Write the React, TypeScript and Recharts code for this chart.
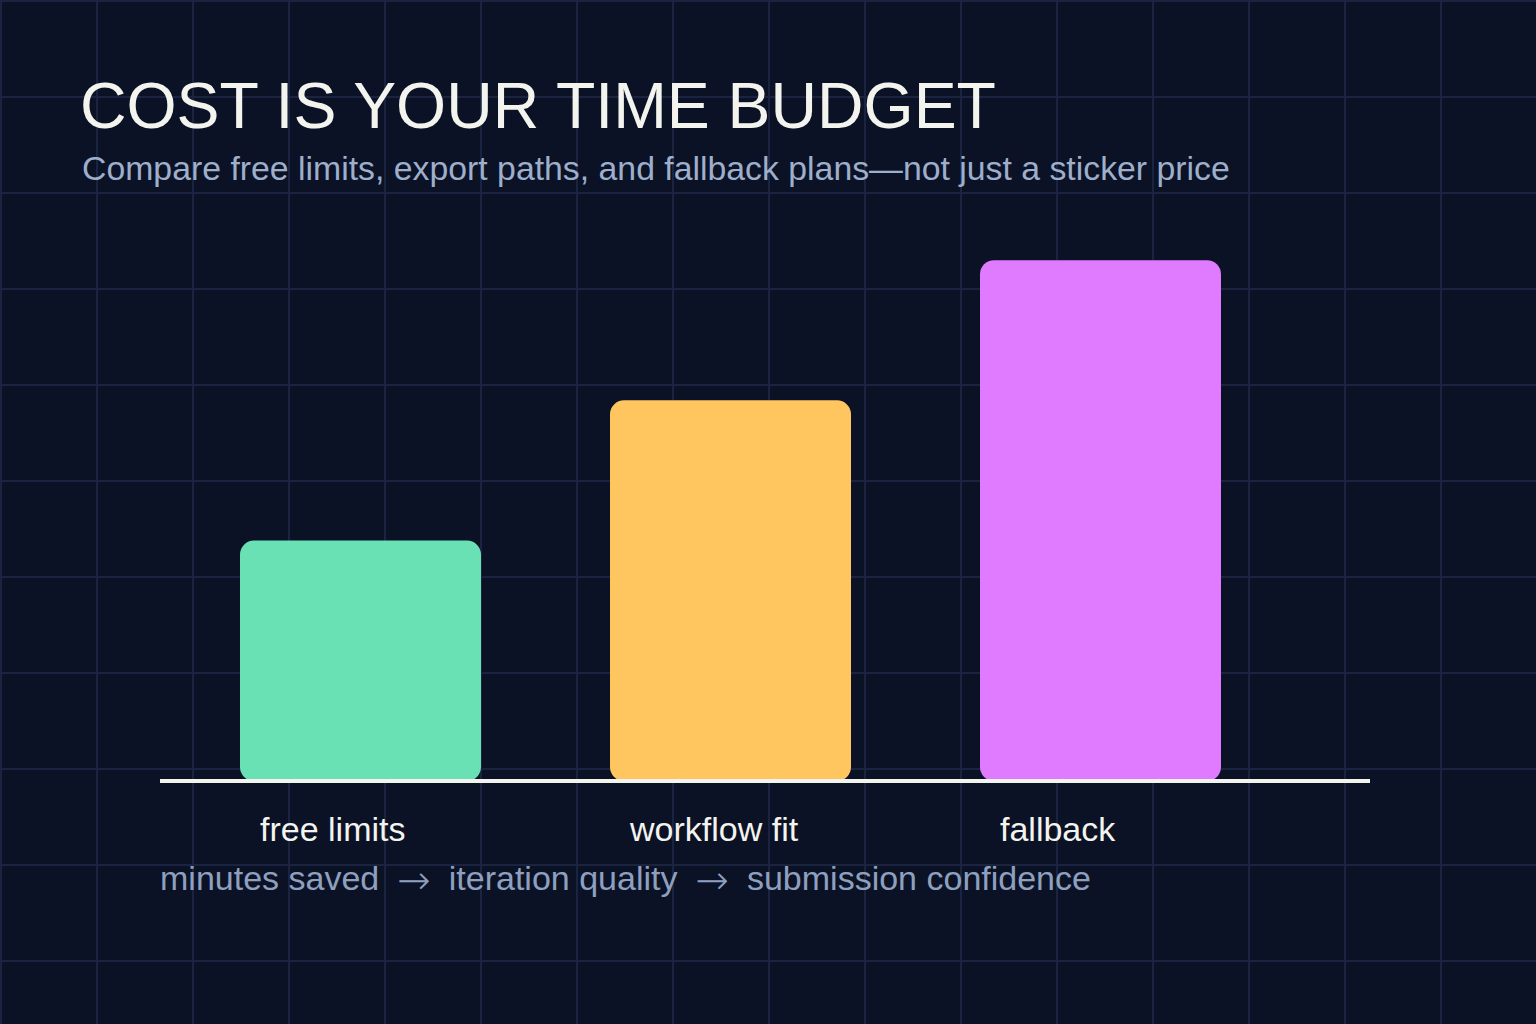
import { BarChart, Bar, XAxis, YAxis, Cell } from 'recharts';

const categories = ['free limits', 'workflow fit', 'fallback'];
const scores = [24, 38, 52];
const barColors = ['#69e1b4', '#ffc55f', '#e07bff'];
const flowSteps = ['minutes saved', 'iteration quality', 'submission confidence'];

const FONT = '"Liberation Sans", Arial, sans-serif';

const data = categories.map((name, i) => ({ name, score: scores[i] }));

// labels sit left-aligned inside the bar's footprint
function CategoryTick(props: any) {
  const { x, y, payload } = props;
  return (
    <text x={x - 100} y={y + 60} textAnchor="start" fill="#f4f4ef" fontSize={34} fontFamily={FONT}>
      {payload.value}
    </text>
  );
}

export default function App() {
  return (
    <div
      style={{
        position: 'absolute',
        left: 0,
        top: 0,
        width: 1536,
        height: 1024,
        backgroundColor: '#0b1226',
        backgroundImage:
          'linear-gradient(to right, #1a2440 2px, transparent 2px), linear-gradient(to bottom, #1a2440 2px, transparent 2px)',
        backgroundSize: '96px 96px',
        overflow: 'hidden',
      }}
    >
      <svg width={1536} height={1024} style={{ position: 'absolute', left: 0, top: 0 }}>
        <text x={80} y={128} fill="#f4f4ef" fontSize={64.4} fontFamily={FONT}>
          COST IS YOUR TIME BUDGET
        </text>
        <text x={82} y={180} fill="#9eafcb" fontSize={33.8} fontFamily={FONT}>
          Compare free limits, export paths, and fallback plans—not just a sticker price
        </text>
        <text x={160} y={890} fill="#8fa0bf" fontSize={34} fontFamily={FONT}>
          {flowSteps.map((step, i) => (
            <tspan key={step}>
              {i > 0 && (
                <tspan dx={18} dy={4} fontFamily='"DejaVu Sans", sans-serif' fontSize={40} fontWeight={200}>
                  →
                </tspan>
              )}
              <tspan dx={i > 0 ? 18 : 0} dy={i > 0 ? -4 : 0}>{step}</tspan>
            </tspan>
          ))}
        </text>
      </svg>
      <div style={{ position: 'absolute', left: 0, top: 0 }}>
        <BarChart
          width={1536}
          height={1024}
          data={data}
          margin={{ top: 180, right: 166, bottom: 143, left: 160 }}
        >
          <YAxis hide domain={[0, 60]} />
          <Bar dataKey="score" barSize={241} radius={14} isAnimationActive={false}>
            {data.map((entry, index) => (
              <Cell key={`cell-${index}`} fill={barColors[index]} />
            ))}
          </Bar>
          <XAxis
            dataKey="name"
            padding={{ left: 15, right: 85 }}
            axisLine={{ stroke: '#f4f4ef', strokeWidth: 4 }}
            tickLine={false}
            tickSize={0}
            tickMargin={0}
            tick={<CategoryTick />}
            height={100}
            interval={0}
          />
        </BarChart>
      </div>
    </div>
  );
}
